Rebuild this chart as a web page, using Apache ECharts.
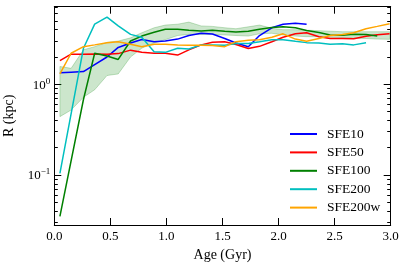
<!DOCTYPE html>
<html><head><meta charset="utf-8">
<script src="https://cdn.jsdelivr.net/npm/echarts@6/dist/echarts.min.js"></script>
<style>html,body{margin:0;padding:0;background:#fff}#c{width:407px;height:268px}</style>
</head><body><div id="c"></div>
<script>
// Age grid (Gyr)
const ages = [0.05,0.15,0.26,0.36,0.47,0.57,0.68,0.78,0.89,0.99,1.1,1.2,1.31,1.41,1.52,1.62,1.73,1.83,1.94,2.04,2.15,2.25,2.36,2.46,2.57,2.67,2.78,2.88,2.99];
// R (kpc) per run
const sfe10 = [1.34,1.36,1.38,1.65,2.0,2.55,2.85,3.12,2.95,3.0,3.15,3.45,3.65,3.58,3.2,2.85,2.6,3.45,4.2,4.6,4.7,4.6,null,null,null,null,null,null,null];
const sfe50 = [1.82,2.15,2.14,2.16,2.14,2.18,2.38,2.25,2.2,2.2,2.1,2.4,2.72,2.9,2.95,2.75,2.48,2.62,2.95,3.3,3.6,3.7,3.35,3.2,3.2,3.17,3.38,3.52,3.6];
const sfe100 = [0.035,null,0.68,2.2,2.05,1.88,3.0,3.4,3.75,4.05,4.05,3.95,3.88,3.95,3.85,3.78,3.85,4.05,4.22,4.32,4.2,3.92,3.72,3.5,3.48,3.57,3.55,3.4,null];
const sfe200 = [0.104,null,2.5,4.6,5.5,4.4,3.55,3.3,2.28,2.25,2.5,2.45,2.72,2.72,2.7,2.82,2.82,2.95,3.1,3.1,2.98,2.88,2.85,2.77,2.8,2.72,2.87,null,null];
const sfe200w = [1.3,2.2,2.6,2.72,2.87,2.95,2.76,2.6,2.76,2.76,2.72,2.7,2.7,2.68,2.6,2.95,3.05,3.1,3.3,3.6,3.15,2.98,3.2,3.45,3.55,3.7,4.1,4.35,4.65];
// SFE100 spread band
const bandLow = [0.44,0.52,0.72,0.87,1.25,1.3,2.0,2.5,2.85,3.1,3.45,3.55,3.55,3.55,3.5,3.45,3.4,3.6,3.65,3.5,3.4,3.35,3.35,3.3,3.28,3.22,3.2,3.15,3.13];
const bandHigh = [1.57,1.5,2.4,2.6,2.9,3.0,3.25,3.7,4.2,4.5,4.6,4.85,4.4,4.35,4.2,4.1,4.3,4.5,4.15,4.0,4.0,3.95,3.9,3.85,3.8,3.8,3.8,3.8,3.8];
// Ticks
const xTickStep = 0.5;
const yMajorTicks = [0.1, 1];
const yMinorTicks = [0.03,0.04,0.05,0.06,0.07,0.08,0.09,0.2,0.3,0.4,0.5,0.6,0.7,0.8,0.9,2,3,4,5,6,7];
const seriesNames = ['SFE10','SFE50','SFE100','SFE200','SFE200w'];
const seriesColors = ['#0000ff','#ff0000','#008000','#00bfbf','#ffa500'];
const seriesValues = [sfe10, sfe50, sfe100, sfe200, sfe200w];

const FONT = 'Liberation Serif';
const yMin = 0.0281, yMax = 7.17;
function fmtPow(v){ const e = Math.round(Math.log10(v)); return '{b|10}{s|' + (e<0?'\u2212':'') + Math.abs(e) + '}'; }
function pairs(vals){ const out=[]; ages.forEach((t,i)=>{ if(vals[i]!=null) out.push([t, vals[i]]); }); return out; }

function yAx(pos, ticks, len, main){
  return {
    type:'log', logBase:10, min:yMin, max:yMax, position:pos,
    name: main && pos==='left' ? 'R (kpc)' : '', nameLocation:'middle', nameGap:32,
    nameTextStyle:{fontFamily:FONT, fontSize:14, color:'#000'},
    axisLine:{show:main, lineStyle:{color:'#000', width:1}},
    axisTick:{show:true, inside:true, length:len, customValues:ticks, lineStyle:{color:'#000', width:1}},
    axisLabel:{show: main && pos==='left', customValues: yMajorTicks, formatter: fmtPow, margin:4,
      fontFamily:FONT, fontSize:13, color:'#000',
      rich:{b:{fontFamily:FONT, fontSize:13, color:'#000', lineHeight:15, verticalAlign:'bottom'},
            s:{fontFamily:FONT, fontSize:9, color:'#000', lineHeight:15, verticalAlign:'top', padding:[0,0,6,0]}}},
    splitLine:{show:false}, minorTick:{show:false}
  };
}
function xAx(pos){
  return {
    type:'value', min:0, max:3, interval:xTickStep, position:pos,
    name: pos==='bottom' ? 'Age (Gyr)' : '', nameLocation:'middle', nameGap:21,
    nameTextStyle:{fontFamily:FONT, fontSize:14, color:'#000'},
    axisLine:{show:true, onZero:false, lineStyle:{color:'#000', width:1}},
    axisTick:{show:true, inside:true, length:7, lineStyle:{color:'#000', width:1}},
    axisLabel:{show: pos==='bottom', formatter: v=>v.toFixed(1), margin:5, fontFamily:FONT, fontSize:13, color:'#000', showMinLabel:true, showMaxLabel:true},
    splitLine:{show:false}
  };
}

const series = [{
  type:'custom', name:'band', xAxisIndex:0, yAxisIndex:0, z:1, silent:true,
  data:[[ages[0], bandLow[0]]],
  renderItem:function(params, api){
    const pts = [];
    for(let i=0;i<ages.length;i++) pts.push(api.coord([ages[i], bandHigh[i]]));
    for(let i=ages.length-1;i>=0;i--) pts.push(api.coord([ages[i], bandLow[i]]));
    return {type:'polygon', shape:{points:pts}, style:{fill:'rgba(0,128,0,0.2)', stroke:'rgba(0,128,0,0.22)', lineWidth:1}};
  }
}];
seriesNames.forEach((n,k)=>{
  series.push({type:'line', name:n, data:pairs(seriesValues[k]), xAxisIndex:0, yAxisIndex:0, z:2+k,
    symbol:'none', color:seriesColors[k], lineStyle:{color:seriesColors[k], width:1.5}, animation:false});
});

const chart = echarts.init(document.getElementById('c'), null, {renderer:'canvas'});
chart.setOption({
  animation:false,
  backgroundColor:'#fff',
  grid:{left:54.3, right:16.3, top:6.7, bottom:43, containLabel:false, outerBoundsMode:'none'},
  xAxis:[xAx('bottom'), xAx('top')],
  yAxis:[yAx('left', yMajorTicks, 7, true), yAx('left', yMinorTicks, 3.5, false),
         yAx('right', yMajorTicks, 7, true), yAx('right', yMinorTicks, 3.5, false)],
  legend:{orient:'vertical', left:285, top:122, itemWidth:27, itemHeight:2, itemGap:4.4, icon:'rect',
    data:seriesNames, textStyle:{fontFamily:FONT, fontSize:13.5, color:'#000', lineHeight:14, padding:[0,0,0,5]}},
  series:series
});
</script></body></html>
